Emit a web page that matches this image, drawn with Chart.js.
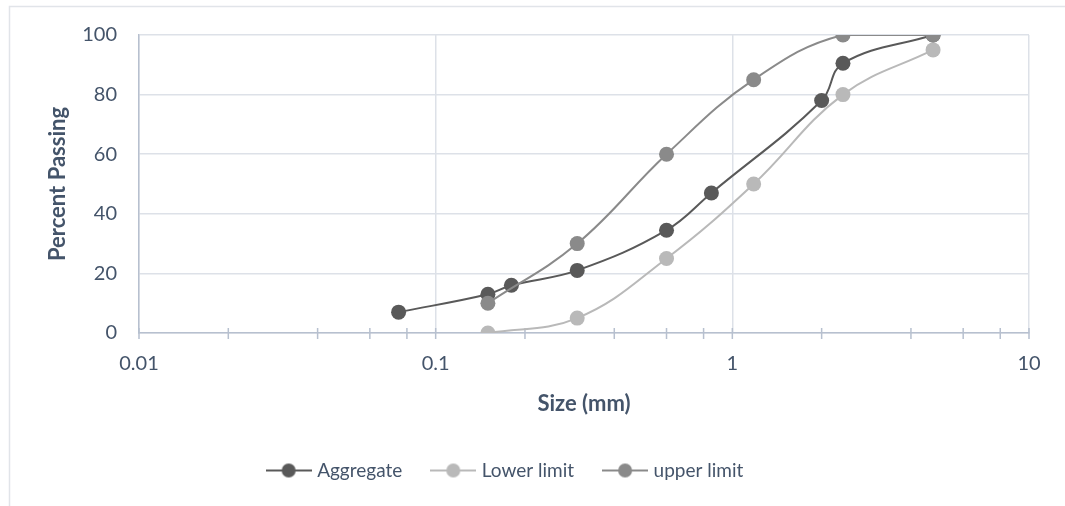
<!DOCTYPE html>
<html>
<head>
<meta charset="utf-8">
<script src="https://cdn.jsdelivr.net/npm/chart.js@4.4.0/dist/chart.umd.min.js"></script>
<style>
  html, body { margin: 0; padding: 0; background: #ffffff; }
  #wrap { width: 1065px; height: 506px; position: relative; }
</style>
</head>
<body>
<div id="wrap"><canvas id="grading"></canvas></div>
<script>
// Sieve sizes (mm) and percent passing
const aggregateSizes   = [0.075, 0.15, 0.18, 0.3, 0.6, 0.85, 2, 2.36, 4.75];
const aggregatePassing = [7, 13, 16, 21, 34.5, 47, 78, 90.5, 100];

const limitSizes   = [0.15, 0.3, 0.6, 1.18, 2.36, 4.75];
const lowerPassing = [0, 5, 25, 50, 80, 95];
const upperPassing = [10, 30, 60, 85, 100, 100];

const seriesNames = ['Aggregate', 'Lower limit', 'upper limit'];

// Axis ticks
const majorSizeTicks = [0.01, 0.1, 1, 10];
const minorMultiples = [2, 4, 6, 8];
const percentMin = 0, percentMax = 100, percentStep = 20;

const FONT = 'Lato, "Open Sans", sans-serif';
const TEXT = '#44546a';
const GRID = '#dde1e8';
const AXIS = '#b7c0cf';
const COLORS = ['#595959', '#b9b9b9', '#8a8a8a'];

// the whole layout starts left of the canvas edge so the legend row sits centred under the plot
const SHIFT = 16;

function pairs(xs, ys) { return xs.map((x, i) => ({ x: x, y: ys[i] })); }

// legend icon: short line with a round marker on it
function legendIcon(color) {
  const c = document.createElement('canvas');
  c.width = 46; c.height = 16;
  const g = c.getContext('2d');
  g.strokeStyle = color; g.lineWidth = 2;
  g.beginPath(); g.moveTo(0, 8); g.lineTo(46, 8); g.stroke();
  g.fillStyle = color;
  g.beginPath(); g.arc(23, 8, 7, 0, Math.PI * 2); g.fill();
  return c;
}
const icons = COLORS.map(legendIcon);

const xTickValues = [];
majorSizeTicks.forEach((m, i) => {
  xTickValues.push(m);
  if (i < majorSizeTicks.length - 1) minorMultiples.forEach(k => xTickValues.push(m * k));
});

function series(name, xs, ys, color, order) {
  return {
    label: name,
    data: pairs(xs, ys),
    borderColor: color,
    backgroundColor: color,
    pointBackgroundColor: color,
    pointBorderColor: color,
    borderWidth: 2,
    pointRadius: 7.5,
    pointHoverRadius: 7.5,
    pointBorderWidth: 0,
    tension: 0.4,
    showLine: true,
    fill: false,
    order: order
  };
}

// frame, and tick marks crossing the x axis
const decorations = {
  id: 'decorations',
  beforeDraw(chart) {
    const ctx = chart.ctx;
    ctx.save();
    ctx.fillStyle = '#ffffff';
    ctx.fillRect(0, 0, chart.width, chart.height);
    ctx.strokeStyle = '#e1e4e9';
    ctx.lineWidth = 1.5;
    ctx.beginPath();
    ctx.moveTo(9.5, chart.height); ctx.lineTo(9.5, 6.5); ctx.lineTo(chart.width, 6.5);
    ctx.stroke();
    ctx.restore();
  },
  beforeDatasetsDraw(chart) {
    const ctx = chart.ctx;
    const xs = chart.scales.x;
    const y0 = chart.scales.y.getPixelForValue(percentMin);
    ctx.save();
    ctx.strokeStyle = AXIS;
    ctx.lineWidth = 1.5;
    ctx.beginPath();
    xs.ticks.forEach(t => {
      const px = xs.getPixelForValue(t.value);
      ctx.moveTo(px, y0 - 5); ctx.lineTo(px, y0 + 6);
    });
    ctx.stroke();
    ctx.restore();
  }
};

new Chart(document.getElementById('grading'), {
  type: 'scatter',
  data: {
    datasets: [
      series(seriesNames[0], aggregateSizes, aggregatePassing, COLORS[0], 2),
      series(seriesNames[1], limitSizes, lowerPassing, COLORS[1], 1),
      series(seriesNames[2], limitSizes, upperPassing, COLORS[2], 0)
    ]
  },
  options: {
    responsive: true,
    maintainAspectRatio: false,
    animation: false,
    devicePixelRatio: 1,
    layout: { padding: { left: -SHIFT, right: 36, top: 35, bottom: 16 } },
    plugins: {
      tooltip: { enabled: false },
      legend: {
        position: 'bottom',
        labels: {
          font: { family: FONT, size: 19 },
          color: TEXT,
          usePointStyle: true,
          pointStyleWidth: 38,
          padding: 32,
          generateLabels(chart) {
            return chart.data.datasets.map((ds, i) => ({
              text: ds.label,
              fontColor: TEXT,
              pointStyle: icons[i],
              datasetIndex: i,
              hidden: false,
              lineWidth: 0,
              strokeStyle: ds.borderColor,
              fillStyle: ds.borderColor
            }));
          }
        }
      }
    },
    scales: {
      x: {
        type: 'logarithmic',
        min: majorSizeTicks[0],
        max: majorSizeTicks[majorSizeTicks.length - 1],
        afterBuildTicks(scale) {
          scale.ticks = xTickValues.map(v => ({ value: v, major: majorSizeTicks.includes(v) }));
        },
        afterFit(scale) { scale.height = 96; },
        ticks: {
          autoSkip: false,
          maxRotation: 0,
          padding: 19,
          color: TEXT,
          font: { family: FONT, size: 20 },
          callback(value) { return majorSizeTicks.includes(value) ? String(value) : ''; }
        },
        grid: {
          drawTicks: false,
          lineWidth: 1.5,
          color(ctx) { return ctx.tick && majorSizeTicks.includes(ctx.tick.value) ? GRID : 'rgba(0,0,0,0)'; }
        },
        border: { display: true, color: AXIS, width: 1.5 },
        title: {
          display: true,
          text: 'Size (mm)',
          color: TEXT,
          font: { family: FONT, size: 22, weight: 'bold' },
          padding: { top: 0, bottom: 12 }
        }
      },
      y: {
        min: percentMin,
        max: percentMax,
        afterFit(scale) { scale.width = 139 + SHIFT; },
        ticks: {
          stepSize: percentStep,
          padding: 22,
          color: TEXT,
          font: { family: FONT, size: 20 }
        },
        grid: { drawTicks: false, lineWidth: 1.5, color: GRID },
        border: { display: true, color: AXIS, width: 1.5 },
        title: {
          display: true,
          text: 'Percent Passing',
          color: TEXT,
          font: { family: FONT, size: 22, weight: 'bold' },
          padding: { top: 58 + SHIFT - 13, bottom: 0 }
        }
      }
    }
  },
  plugins: [decorations]
});
</script>
</body>
</html>
